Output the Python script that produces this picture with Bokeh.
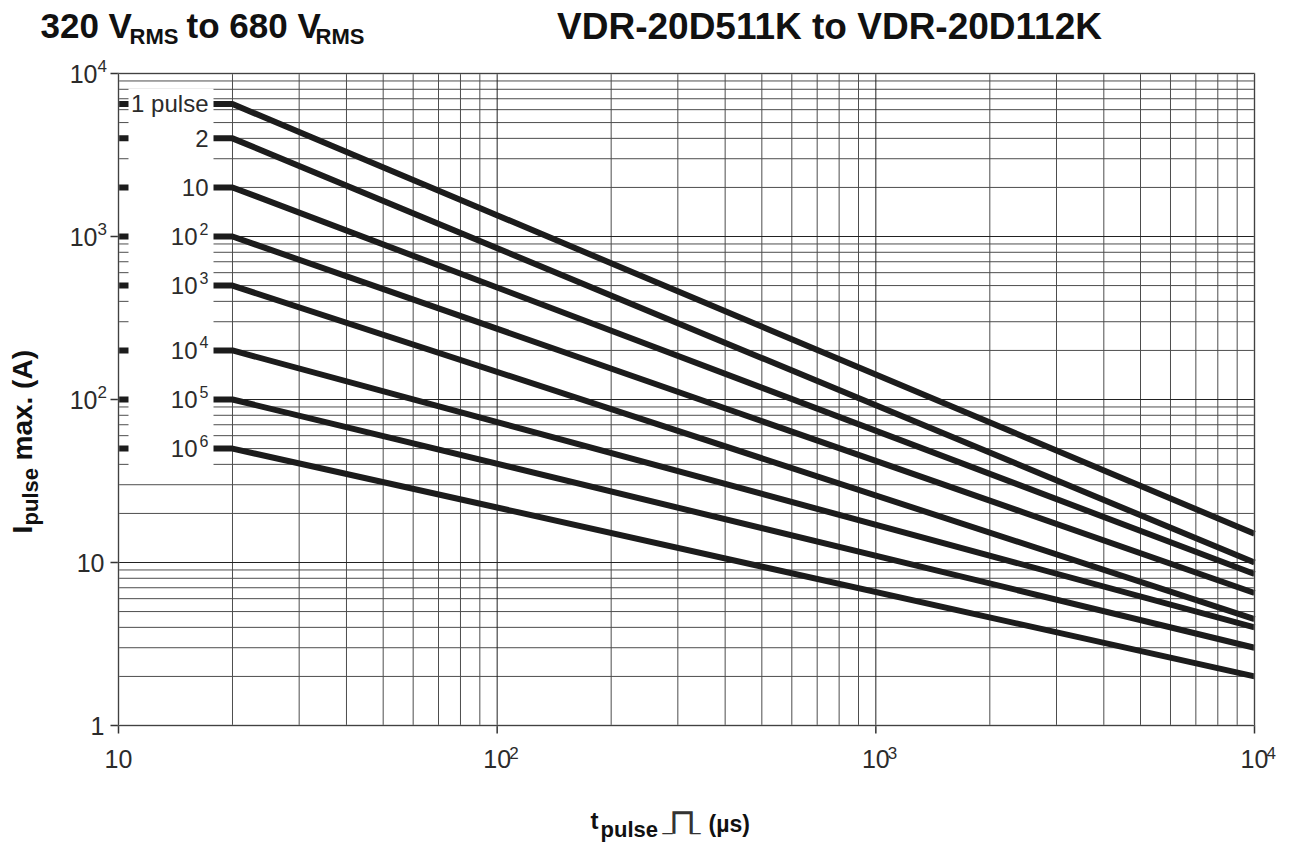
import math
from bokeh.plotting import figure
from bokeh.models import LabelSet, BoxAnnotation, ColumnDataSource, Range1d
from bokeh.embed import file_html
from bokeh.resources import INLINE
from bokeh.core.properties import value

# ---- data ----
t_points = [10, 20, 10000]                      # t_pulse (µs): flat start, knee, end
curve_label_base = ["1 pulse", "2", "10", "10", "10", "10", "10", "10"]
curve_label_exp = ["", "", "", "2", "3", "4", "5", "6"]
i_at_20us = [6500, 4000, 2000, 1000, 500, 200, 100, 50]
i_at_10ms = [15, 10, 8.5, 6.5, 4.5, 4, 3, 2]

x_ticks = [10, 100, 1000, 10000]
x_tick_base = ["10", "10", "10", "10"]
x_tick_exp = ["", "2", "3", "4"]
y_ticks = [1, 10, 100, 1000, 10000]
y_tick_base = ["1", "10", "10", "10", "10"]
y_tick_exp = ["", "", "2", "3", "4"]

FONT = "Liberation Sans"
TXT = "#2b2b2b"
W, H = 1297, 843
FL, FT, FR, FB = 118, 73, 1254, 725      # plot-area edges in page pixels
DX = (FR - FL) / (math.log10(x_ticks[-1]) - math.log10(x_ticks[0]))
DY = (FB - FT) / (math.log10(y_ticks[-1]) - math.log10(y_ticks[0]))

# the frame spans the whole canvas so that every text can sit anywhere on it
x_range = Range1d(10 ** (math.log10(x_ticks[0]) - FL / DX), 10 ** (math.log10(x_ticks[-1]) + (W - FR) / DX))
y_range = Range1d(10 ** (math.log10(y_ticks[0]) - (H - FB) / DY), 10 ** (math.log10(y_ticks[-1]) + FT / DY))

p = figure(width=W, height=H, x_axis_type="log", y_axis_type="log",
           x_range=x_range, y_range=y_range, title=None,
           x_axis_location=None, y_axis_location=None,
           output_backend="svg", toolbar_location=None, min_border=0)
p.outline_line_color = None
p.background_fill_color = "white"
p.border_fill_color = "white"
p.xgrid.visible = False
p.ygrid.visible = False

X0, X1 = x_ticks[0], x_ticks[-1]
Y0, Y1 = y_ticks[0], y_ticks[-1]
x_minor = [d * k for d in x_ticks[:-1] for k in range(2, 10)]
y_minor = [d * k for d in y_ticks[:-1] for k in range(2, 10)]

# grid lines (minor, then decades)
p.segment(x0=x_minor, y0=[Y0] * len(x_minor), x1=x_minor, y1=[Y1] * len(x_minor),
          line_color="#4d4d4d", line_width=1)
p.segment(x0=[X0] * len(y_minor), y0=y_minor, x1=[X1] * len(y_minor), y1=y_minor,
          line_color="#4d4d4d", line_width=1)
p.segment(x0=x_ticks, y0=[Y0] * len(x_ticks), x1=x_ticks, y1=[Y1] * len(x_ticks),
          line_color="#222222", line_width=1)
p.segment(x0=[X0] * len(y_ticks), y0=y_ticks, x1=[X1] * len(y_ticks), y1=y_ticks,
          line_color="#222222", line_width=1)

# outward major ticks
p.ray(x=[X0] * len(y_ticks), y=y_ticks, length=8, length_units="screen", angle=math.pi,
      line_color="#333333", line_width=1.5)
p.ray(x=x_ticks, y=[Y0] * len(x_ticks), length=8, length_units="screen", angle=-math.pi / 2,
      line_color="#333333", line_width=1.5)

# curves
for a, b in zip(i_at_20us, i_at_10ms):
    p.line(t_points, [a, a, b], line_color="#1c1c1c", line_width=6,
           line_cap="butt", line_join="round")

# plot-area border
p.add_layout(BoxAnnotation(left=X0, right=X1, bottom=Y0, top=Y1, fill_alpha=0,
                           line_color="#8c8c8c", line_width=3))

def fx(x):
    return x
def fy(y):
    return H - y

# white legend panel
p.add_layout(BoxAnnotation(left=fx(128), right=fx(213), top=fy(88), bottom=fy(465),
                           left_units="screen", right_units="screen",
                           top_units="screen", bottom_units="screen",
                           fill_color="white", fill_alpha=1.0, line_color=None))

# curve labels inside the panel
n = len(curve_label_base)
knee = [t_points[1]] * n
base_off = [-35 if e else -24 for e in curve_label_exp]
src_cb = ColumnDataSource(dict(x=knee, y=i_at_20us, text=curve_label_base, xo=base_off))
p.add_layout(LabelSet(x="x", y="y", text="text", source=src_cb, x_offset="xo",
                      text_align="right", text_baseline="middle",
                      text_font=value(FONT), text_font_size="24px", text_color=TXT))
src_ce = ColumnDataSource(dict(x=knee, y=i_at_20us, text=curve_label_exp))
p.add_layout(LabelSet(x="x", y="y", text="text", source=src_ce, x_offset=-24, y_offset=8,
                      text_align="right", text_baseline="middle",
                      text_font=value(FONT), text_font_size="16px", text_color=TXT))

# bottom tick labels
src_xb = ColumnDataSource(dict(x=x_ticks, y=[fy(767)] * len(x_ticks), text=x_tick_base))
p.add_layout(LabelSet(x="x", y="y", y_units="screen", text="text", source=src_xb,
                      text_align="center", text_baseline="alphabetic",
                      text_font=value(FONT), text_font_size="25px", text_color=TXT))
src_xe = ColumnDataSource(dict(x=x_ticks, y=[fy(758)] * len(x_ticks), text=x_tick_exp))
p.add_layout(LabelSet(x="x", y="y", y_units="screen", text="text", source=src_xe, x_offset=12,
                      text_align="left", text_baseline="alphabetic",
                      text_font=value(FONT), text_font_size="17px", text_color=TXT))

# left tick labels
y_base_x = [fx(97) if e else fx(104) for e in y_tick_exp]
src_yb = ColumnDataSource(dict(x=y_base_x, y=y_ticks, text=y_tick_base))
p.add_layout(LabelSet(x="x", y="y", x_units="screen", text="text", source=src_yb,
                      text_align="right", text_baseline="middle",
                      text_font=value(FONT), text_font_size="25px", text_color=TXT))
src_ye = ColumnDataSource(dict(x=[fx(97)] * len(y_ticks), y=y_ticks, text=y_tick_exp))
p.add_layout(LabelSet(x="x", y="y", x_units="screen", text="text", source=src_ye, y_offset=8,
                      text_align="left", text_baseline="middle",
                      text_font=value(FONT), text_font_size="17px", text_color=TXT))

def lab(text, x, y, size, bold=True, angle=0.0, font=FONT, align="left", color="#111111"):
    src = ColumnDataSource(dict(x=[fx(x)], y=[fy(y)], text=[text]))
    p.add_layout(LabelSet(x="x", y="y", x_units="screen", y_units="screen", text="text",
                          source=src, text_font=value(font), text_font_size=f"{size}px",
                          text_font_style="bold" if bold else "normal",
                          text_color=color, angle=angle,
                          text_align=align, text_baseline="alphabetic"))

# top-left title
lab("320 V", 40, 37, 35)
lab("RMS", 129, 43, 22)
lab("to 680 V", 186, 37, 35)
lab("RMS", 315, 43, 22)
# main title
lab("VDR-20D511K to VDR-20D112K", 829, 38, 37, align="center")

# y axis title (rotated, reads bottom to top)
lab("I", 31, 533, 28, angle=math.pi / 2)
lab("pulse", 37, 525, 22, angle=math.pi / 2)
lab("max. (A)", 31, 460, 28, angle=math.pi / 2)

# x axis title
lab("t", 590, 828, 24)
lab("pulse", 600, 836, 22)
lab("_", 662, 829, 20, bold=False, font="DejaVu Sans", color="#333333")
lab("⊓", 668, 833, 36, bold=False, font="DejaVu Sans", color="#333333")
lab("_", 690, 829, 20, bold=False, font="DejaVu Sans", color="#333333")
lab("(µs)", 708, 831, 23)

open("out.html", "w").write(file_html(p, INLINE))
